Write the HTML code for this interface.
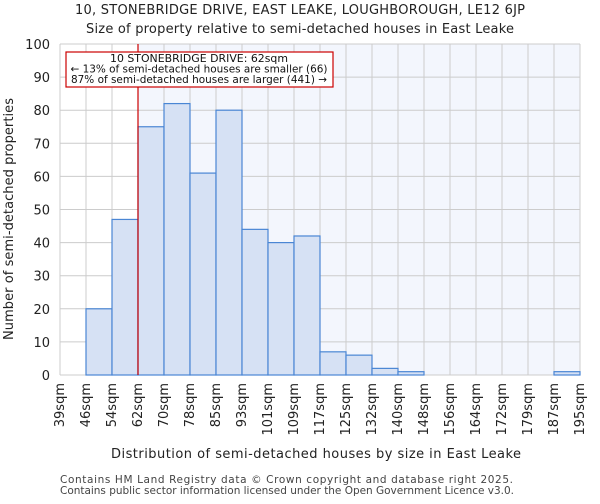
<!DOCTYPE html>
<html><head><meta charset="utf-8"><style>
body{margin:0;background:#fff;font-family:"DejaVu Sans","Liberation Sans",sans-serif;}
</style></head><body>
<svg id="chart" width="600" height="500" xmlns="http://www.w3.org/2000/svg" font-family="DejaVu Sans, Liberation Sans, sans-serif">
<text x="300" y="14" text-anchor="middle" font-size="13" textLength="450" fill="#222">10, STONEBRIDGE DRIVE, EAST LEAKE, LOUGHBOROUGH, LE12 6JP</text>
<text x="300" y="33" text-anchor="middle" font-size="13" textLength="428" fill="#222">Size of property relative to semi-detached houses in East Leake</text>
<g id="plot"></g>
<text x="316" y="458" text-anchor="middle" font-size="13" textLength="410" fill="#222">Distribution of semi-detached houses by size in East Leake</text>
<text transform="translate(13,219) rotate(-90)" text-anchor="middle" font-size="13" textLength="242" fill="#222">Number of semi-detached properties</text>
<text x="60" y="483" font-size="10.5" textLength="453" fill="#444">Contains HM Land Registry data © Crown copyright and database right 2025.</text>
<text x="60" y="494" font-size="10.5" textLength="454" fill="#444">Contains public sector information licensed under the Open Government Licence v3.0.</text>
</svg>
<script>
const categories=["39sqm","46sqm","54sqm","62sqm","70sqm","78sqm","85sqm","93sqm","101sqm","109sqm","117sqm","125sqm","132sqm","140sqm","148sqm","156sqm","164sqm","172sqm","179sqm","187sqm","195sqm"];
const counts=[0,20,47,75,82,61,80,44,40,42,7,6,2,1,0,0,0,0,0,1];
const yTicks=[0,10,20,30,40,50,60,70,80,90,100];
const markerIndex=3;
const NS="http://www.w3.org/2000/svg";
const L=60,R=580,T=44,B=375,nb=counts.length,bw=(R-L)/nb;
const x=i=>L+i*bw, y=v=>B-(v/100)*(B-T);
const g=document.getElementById('plot');
function el(t,a){const e=document.createElementNS(NS,t);for(const k in a)e.setAttribute(k,a[k]);g.appendChild(e);return e;}
let e=el('rect',{x:x(markerIndex),y:T,width:R-x(markerIndex),height:B-T,fill:'#f3f6fd'});


yTicks.forEach(v=>{let l=el('line',{x1:L,x2:R,y1:y(v),y2:y(v),stroke:'#ccc','stroke-width':1});


let t=el('text',{x:L-10,y:y(v)+5,'text-anchor':'end','font-size':'13',fill:'#222'});t.textContent=v;

});
categories.forEach((c,i)=>{let l=el('line',{x1:x(i),x2:x(i),y1:T,y2:B,stroke:'#ccc','stroke-width':1});


let t=el('text',{transform:`translate(${x(i)+4},${B+8}) rotate(-90)`,'text-anchor':'end','font-size':'13',fill:'#222'});t.textContent=c;

});
counts.forEach((v,i)=>{if(v<=0)return;let r=el('rect',{x:x(i),y:y(v),width:bw,height:B-y(v),fill:'#d6e1f4',stroke:'#4a86d4','stroke-width':1.2});

});
let m=el('line',{x1:x(markerIndex),x2:x(markerIndex),y1:T,y2:B,stroke:'#cc0000','stroke-width':1.2});


let bx=el('rect',{x:66,y:52,width:267,height:35,fill:'#fff',stroke:'#cc0000','stroke-width':1.2});


const ann=["10 STONEBRIDGE DRIVE: 62sqm","← 13% of semi-detached houses are smaller (66)","87% of semi-detached houses are larger (441) →"];
const annW=[178,257,256];
ann.forEach((s,i)=>{
let t=el('text',{x:199,y:62+i*10.5,'text-anchor':'middle','font-size':'10.5',textLength:annW[i],lengthAdjust:'spacingAndGlyphs',fill:'#111'});t.textContent=s;

});
</script>
</body></html>
